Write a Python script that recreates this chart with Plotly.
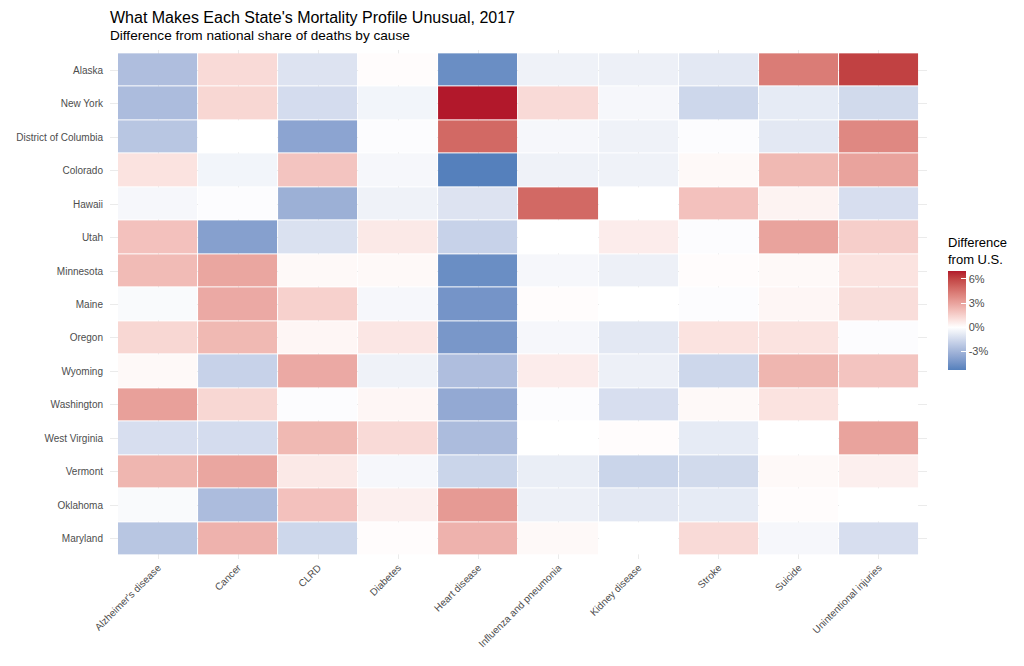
import plotly.graph_objects as go

# data: difference from national share of deaths by cause (percentage points)
causes = ["Alzheimer's disease", "Cancer", "CLRD", "Diabetes", "Heart disease",
          "Influenza and pneumonia", "Kidney disease", "Stroke", "Suicide",
          "Unintentional injuries"]

states = ["Alaska", "New York", "District of Columbia", "Colorado", "Hawaii", "Utah",
          "Minnesota", "Maine", "Oregon", "Wyoming", "Washington", "West Virginia",
          "Vermont", "Oklahoma", "Maryland"]

alaska = [-2.6, 1.2, -1.1, 0.1, -4.7, -0.5, -0.6, -0.9, 4.3, 6.1]
new_york = [-2.7, 1.3, -1.4, -0.4, 7.0, 1.2, -0.3, -1.6, -0.8, -1.5]
dc = [-2.3, 0.0, -3.7, -0.1, 4.9, -0.3, -0.5, -0.1, -0.9, 3.9]
colorado = [0.9, -0.4, 1.9, -0.3, -5.3, -0.5, -0.5, 0.2, 2.3, 3.0]
hawaii = [-0.3, -0.1, -3.2, -0.5, -1.1, 4.9, 0.0, 2.0, 0.4, -1.3]
utah = [2.0, -3.9, -1.2, 0.7, -1.8, 0.0, 0.6, -0.1, 3.0, 1.6]
minnesota = [2.2, 2.9, 0.2, 0.2, -4.7, -0.3, -0.6, 0.1, 0.2, 0.9]
maine = [-0.2, 2.8, 1.5, -0.3, -4.4, 0.1, 0.0, -0.1, 0.3, 1.1]
oregon = [1.3, 2.3, 0.3, 0.8, -4.3, -0.3, -0.9, 0.9, 0.9, -0.1]
wyoming = [0.2, -1.8, 2.8, -0.5, -2.6, 0.6, -0.6, -1.6, 2.4, 1.9]
washington = [3.1, 1.3, -0.1, 0.3, -3.5, -0.1, -1.3, 0.2, 0.9, 0.0]
west_virginia = [-1.3, -1.4, 2.3, 1.2, -2.7, 0.0, 0.1, -0.8, 0.0, 3.0]
vermont = [2.4, 2.9, 0.7, -0.3, -1.7, -0.7, -1.7, -1.5, 0.2, 0.5]
oklahoma = [-0.2, -2.7, 2.0, 0.5, 3.3, -0.6, -0.9, -0.8, 0.1, 0.0]
maryland = [-2.3, 2.5, -1.6, 0.1, 2.5, 0.2, 0.0, 1.2, -0.3, -1.3]

z = [alaska, new_york, dc, colorado, hawaii, utah, minnesota, maine, oregon,
     wyoming, washington, west_virginia, vermont, oklahoma, maryland]

# =============================================================================
# diverging colour scale, interpolated in Lab like ggplot's gradient2
# =============================================================================

zmin, zmax = -5.3, 7.0
low_col, high_col = '#5580bc', '#b2182b'


def to_lab(h):
    rgb = [int(h[i:i + 2], 16) / 255 for i in (1, 3, 5)]
    lin = [((c + 0.055) / 1.055) ** 2.4 if c > 0.04045 else c / 12.92 for c in rgb]
    X = (0.4124 * lin[0] + 0.3576 * lin[1] + 0.1805 * lin[2]) / 0.95047
    Y = 0.2126 * lin[0] + 0.7152 * lin[1] + 0.0722 * lin[2]
    Z = (0.0193 * lin[0] + 0.1192 * lin[1] + 0.9505 * lin[2]) / 1.08883
    f = lambda t: t ** (1 / 3) if t > 0.008856 else 7.787 * t + 16 / 116
    fx, fy, fz = f(X), f(Y), f(Z)
    return (116 * fy - 16, 500 * (fx - fy), 200 * (fy - fz))


def from_lab(L, a, b):
    fy = (L + 16) / 116
    fx = fy + a / 500
    fz = fy - b / 200
    finv = lambda t: t ** 3 if t ** 3 > 0.008856 else (t - 16 / 116) / 7.787
    X, Y, Z = finv(fx) * 0.95047, finv(fy), finv(fz) * 1.08883
    r = 3.2406 * X - 1.5372 * Y - 0.4986 * Z
    g = -0.9689 * X + 1.8758 * Y + 0.0415 * Z
    bb = 0.0557 * X - 0.2040 * Y + 1.0570 * Z
    out = []
    for c in (r, g, bb):
        c = min(max(c, 0), 1)
        c = 1.055 * c ** (1 / 2.4) - 0.055 if c > 0.0031308 else 12.92 * c
        out.append(int(round(min(max(c, 0), 1) * 255)))
    return 'rgb(%d,%d,%d)' % tuple(out)


white = to_lab('#ffffff')
low_lab, high_lab = to_lab(low_col), to_lab(high_col)


def colour_at(v):
    if v < 0:
        t, end = -v / -zmin, low_lab
    else:
        t, end = v / zmax, high_lab
    return from_lab(*[w + (e - w) * t for w, e in zip(white, end)])


n = 40
positions = sorted(set([i / n for i in range(n + 1)] + [-zmin / (zmax - zmin)]))
colorscale = [[p, colour_at(zmin + p * (zmax - zmin))] for p in positions]

# =============================================================================
# figure (page body has an 8px margin, so the figure is 1008 x 650)
# =============================================================================

font = "Liberation Sans, Arial, sans-serif"
W, H = 1008, 650
ml, mr, mt, mb = 102, 89, 42, 99
panel_w, panel_h = W - ml - mr, H - mt - mb
bottom = H - mb  # panel bottom, px from top

fig = go.Figure(go.Heatmap(
    z=z, x=causes, y=states, zmin=zmin, zmax=zmax, colorscale=colorscale,
    xgap=1, ygap=1,
    colorbar=dict(
        title=dict(text='Difference<br>from U.S.', side='top',
                   font=dict(size=13, color='black', family=font)),
        tickvals=[-3, 0, 3, 6], ticktext=['-3%', '0%', '3%', '6%'],
        tickfont=dict(size=11, color='#4d4d4d', family=font),
        ticks='inside', tickcolor='white', ticklen=5,
        outlinewidth=0, thickness=18, lenmode='pixels', len=136,
        x=(940 - ml) / panel_w, xanchor='left', xpad=0,
        y=(bottom - 226) / panel_h, yanchor='top', ypad=0),
    hovertemplate='%{y}<br>%{x}: %{z:.1f}%<extra></extra>'))

fig.update_layout(
    width=W, height=H,
    margin=dict(l=ml, r=mr, t=mt, b=mb, autoexpand=False),
    paper_bgcolor='white', plot_bgcolor='white',
    font=dict(family=font, color='#4d4d4d'),
    title=dict(text="What Makes Each State's Mortality Profile Unusual, 2017",
               x=ml / W, xanchor='left', xref='container',
               y=1 - 9 / H, yanchor='middle', yref='container',
               font=dict(size=16, color='black', family=font)),
    annotations=[dict(text='Difference from national share of deaths by cause',
                      xref='paper', yref='paper', x=0, y=(bottom - 28) / panel_h,
                      xanchor='left', yanchor='middle', showarrow=False, xshift=-2,
                      font=dict(size=13.6, color='black', family=font))])

fig.update_xaxes(type='category', categoryorder='array', categoryarray=causes,
                 range=[-0.6, 9.6], tickangle=-45, showgrid=True, gridcolor='#ebebeb',
                 zeroline=False, showline=False, ticks='', automargin=False,
                 tickfont=dict(size=10, color='#4d4d4d'))
fig.update_yaxes(type='category', categoryorder='array', categoryarray=states,
                 range=[14.6, -0.6], showgrid=True, gridcolor='#ebebeb',
                 zeroline=False, showline=False, ticks='', ticklabelstandoff=6,
                 automargin=False, tickfont=dict(size=10, color='#4d4d4d'))

fig.write_html("out.html")
